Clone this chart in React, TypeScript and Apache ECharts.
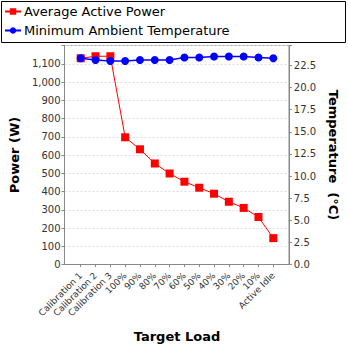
import React, { useEffect, useRef } from "react";
import * as echarts from "echarts";

const categories = ["Calibration 1", "Calibration 2", "Calibration 3", "100%", "90%", "80%", "70%", "60%", "50%", "40%", "30%", "20%", "10%", "Active Idle"];
const powerValues = [1130, 1141, 1141, 696, 630, 552, 497, 452, 419, 386, 342, 308, 258, 142];
const temperatureValues = [23.3, 23.1, 23.0, 23.0, 23.1, 23.1, 23.1, 23.4, 23.4, 23.5, 23.5, 23.5, 23.4, 23.3];
const powerMax = 1200;
const tempMax = 24.75;

const FONT = "DejaVu Sans";

export default function App() {
  const ref = useRef<HTMLDivElement>(null);
  useEffect(() => {
    const chart = echarts.init(ref.current!, undefined, { renderer: "svg" });
    const gridTop = 45.5;
    const gridBottom = 348 - 264.5;
    const tickLabel = { fontFamily: FONT, fontSize: 10, color: "#333" };
    const nameStyle = { fontFamily: FONT, fontSize: 13, fontWeight: "bold" as const, color: "#000" };
    chart.setOption({
      animation: false,
      backgroundColor: "#fff",
      legend: {
        orient: "vertical",
        left: 4,
        top: 5,
        padding: 0,
        itemWidth: 16,
        itemHeight: 8,
        itemGap: 6,
        textStyle: { fontFamily: FONT, fontSize: 13, color: "#000", padding: [0, 0, 0, -2] },
        data: ["Average Active Power", "Minimum Ambient Temperature"],
      },
      graphic: [
        {
          type: "rect",
          shape: { x: 1.5, y: 1.5, width: 344, height: 41 },
          style: { fill: "none", stroke: "#000", lineWidth: 1 },
          silent: true,
        },
      ],
      grid: [
        { left: 62, right: 348 - 291.5, top: gridTop, bottom: gridBottom, show: true, borderColor: "#aaa", borderWidth: 1, backgroundColor: "#fff" },
        { left: 73.3, right: 348 - 280.7, top: gridTop, bottom: gridBottom },
      ],
      xAxis: [
        {
          gridIndex: 0,
          type: "value",
          min: 0,
          max: 1,
          axisLine: { show: true, lineStyle: { color: "#888" } },
          axisTick: { show: false },
          axisLabel: { show: false },
          splitLine: { show: false },
        },
        {
          gridIndex: 1,
          type: "category",
          data: categories,
          boundaryGap: true,
          axisLine: { show: false },
          axisTick: { show: true, alignWithLabel: true, length: 3, lineStyle: { color: "#888" } },
          axisLabel: { ...tickLabel, fontSize: 9, rotate: 45, interval: 0, margin: 10 },
          name: "Target Load",
          nameLocation: "middle",
          nameGap: 66,
          nameTextStyle: nameStyle,
        },
      ],
      yAxis: [
        {
          gridIndex: 0,
          type: "value",
          min: 0,
          max: powerMax,
          interval: 100,
          axisLine: { show: true, lineStyle: { color: "#888" } },
          axisTick: { show: true, length: 3, lineStyle: { color: "#888" } },
          axisLabel: {
            ...tickLabel,
            margin: 4,
            formatter: (v: number) => (v >= powerMax ? "" : v.toLocaleString("en-US")),
          },
          splitLine: { show: true, lineStyle: { color: "#ddd", type: [2, 2] } },
          name: "Power (W)",
          nameLocation: "middle",
          nameGap: 35,
          nameRotate: 90,
          nameTextStyle: nameStyle,
        },
        {
          gridIndex: 0,
          type: "value",
          position: "right",
          min: 0,
          max: tempMax,
          interval: 2.5,
          axisLine: { show: true, lineStyle: { color: "#888" } },
          axisTick: { show: true, length: 3, lineStyle: { color: "#888" } },
          axisLabel: {
            ...tickLabel,
            margin: 5,
            formatter: (v: number) => (v >= tempMax - 0.01 || v % 2.5 > 0.001 ? "" : v.toFixed(1)),
          },
          splitLine: { show: false },
          name: "Temperature  (°C)",
          nameLocation: "middle",
          nameGap: 27,
          nameRotate: -90,
          nameTextStyle: nameStyle,
        },
        { gridIndex: 1, type: "value", min: 0, max: powerMax, show: false, splitLine: { show: false } },
        { gridIndex: 1, type: "value", min: 0, max: tempMax, show: false, splitLine: { show: false } },
      ],
      series: [
        {
          name: "Average Active Power",
          type: "line",
          xAxisIndex: 1,
          yAxisIndex: 2,
          data: powerValues,
          symbol: "rect",
          symbolSize: 8,
          color: "#ff0000",
          lineStyle: { width: 1, color: "#ff0000" },
          itemStyle: { color: "#ff0000" },
        },
        {
          name: "Minimum Ambient Temperature",
          type: "line",
          xAxisIndex: 1,
          yAxisIndex: 3,
          data: temperatureValues,
          symbol: "circle",
          symbolSize: 8,
          color: "#0000ff",
          lineStyle: { width: 1.5, color: "#0000ff" },
          itemStyle: { color: "#0000ff" },
        },
      ],
    });
    return () => chart.dispose();
  }, []);
  return <div ref={ref} style={{ position: "fixed", left: 0, top: 0, width: 348, height: 348 }} />;
}
